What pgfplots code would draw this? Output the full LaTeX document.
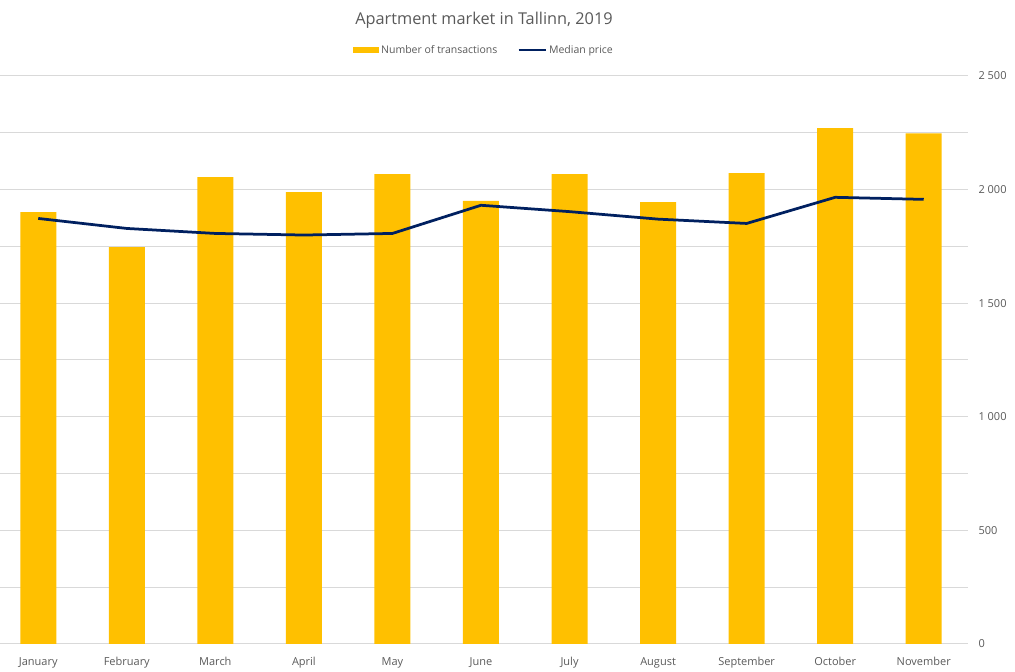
\documentclass[border=0pt]{standalone}
\usepackage{pgfplots}
\pgfplotsset{compat=1.18}
\usepackage{fontspec}
\setmainfont{Open Sans}
\definecolor{bargold}{HTML}{FFC000}
\definecolor{linenavy}{HTML}{002060}
\definecolor{txtgray}{HTML}{595959}
\definecolor{gridgray}{HTML}{D9D9D9}
\begin{document}
\begin{tikzpicture}
\path[use as bounding box] (0pt,-28pt) rectangle (1015pt,644pt);
\begin{axis}[
  scale only axis, width=968pt, height=568pt,
  xmin=-0.432, xmax=10.5, ymin=0, ymax=2500,
  axis x line*=bottom, axis y line*=right,
  y axis line style={draw=none},
  x axis line style={gridgray, line width=1pt, -},
  major tick length=0pt, minor tick length=0pt,
  ytick={0,500,...,2500},
  yticklabels={0,500,1 000,1 500,2 000,2 500},
  minor ytick={250,750,...,2250},
  ymajorgrids, yminorgrids,
  major grid style={gridgray, line width=1pt},
  minor grid style={gridgray, line width=1pt},
  xtick={0,...,10},
  xticklabels={January,February,March,April,May,June,July,August,September,October,November},
  tick label style={font=\fontsize{11}{13}\selectfont, text=txtgray},
  yticklabel style={anchor=west, xshift=7pt},
  xticklabel style={anchor=base, yshift=-21pt},
  clip=false,
  legend columns=2,
  legend style={at={(rel axis cs:0.5,1)}, yshift=26pt, anchor=center, draw=none, fill=none,
    font=\fontsize{10.5}{13}\selectfont, text=txtgray, inner sep=0pt,
    /tikz/every even column/.append style={column sep=18pt}},
]
\addplot[ybar, bar width=36pt, fill=bargold, draw=none,
  legend image code/.code={\fill[bargold] (0pt,-3pt) rectangle (26pt,3pt);}]
  coordinates {(0,1901) (1,1747) (2,2055) (3,1989) (4,2068) (5,1950) (6,2068) (7,1945) (8,2073) (9,2271) (10,2248)};
\addlegendentry{Number of transactions}
\addplot[linenavy, line width=2.75pt, mark=none,
  legend image code/.code={\draw[linenavy, line width=2.75pt] (0pt,0pt) -- (27pt,0pt);}]
  coordinates {(0,1873) (1,1829) (2,1807) (3,1800) (4,1807) (5,1931) (6,1903) (7,1870) (8,1851) (9,1966) (10,1957)};
\addlegendentry{Median price}
\node[font=\fontsize{16.3}{19}\selectfont, text=txtgray] at (rel axis cs:0.5,1) [yshift=56pt] {Apartment market in Tallinn, 2019};
\end{axis}
\end{tikzpicture}
\end{document}
